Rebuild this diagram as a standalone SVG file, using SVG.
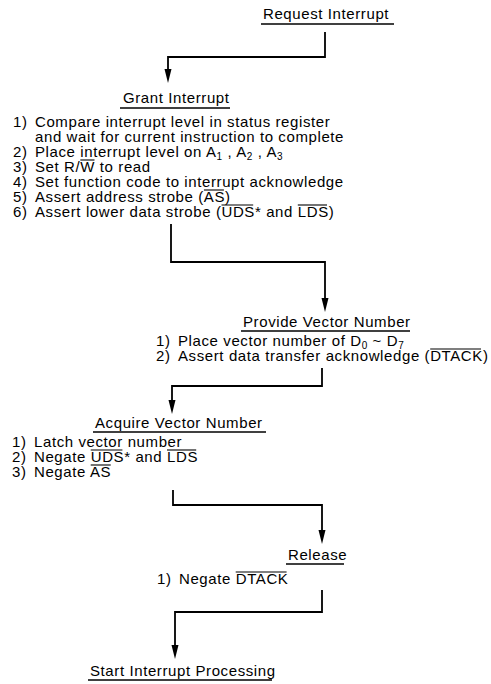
<svg xmlns="http://www.w3.org/2000/svg" width="491" height="684" viewBox="0 0 491 684">
<style>
text{font-family:"Liberation Sans",Arial,sans-serif;font-size:15px;letter-spacing:0.6px;fill:#000}
.ul{stroke:#000;stroke-width:1.3;fill:none}
.ov{stroke:#000;stroke-width:1.1;fill:none}
.cn{stroke:#000;stroke-width:1.8;fill:none}
.ah{fill:#000}
.sb{font-size:10px}
</style>
<rect width="491" height="684" fill="#fff"/>
<g id="connectors">
<path class="cn" d="M325,32 V57 H168 V70"/>
<path class="cn" d="M171,224 V262 H325 V299"/>
<path class="cn" d="M322,368 V386 H172 V401"/>
<path class="cn" d="M173,490 V505 H322 V531"/>
<path class="cn" d="M322,590 V612 H175 V646"/>
<path class="ah" d="M164.5,69 L171.5,69 L168,83 Z"/>
<path class="ah" d="M321.5,298 L328.5,298 L325,312 Z"/>
<path class="ah" d="M168.5,400 L175.5,400 L172,414 Z"/>
<path class="ah" d="M318.5,530 L325.5,530 L322,544 Z"/>
<path class="ah" d="M171.5,645 L178.5,645 L175,659 Z"/>
</g>
<g id="request">
<text x="263" y="19">Request Interrupt</text>
<line class="ul" x1="261" y1="24" x2="394" y2="24"/>
</g>
<g id="grant">
<text x="123" y="103">Grant Interrupt</text>
<line class="ul" x1="120" y1="108" x2="230" y2="108"/>
<text x="13" y="127">1)</text><text x="35" y="127">Compare interrupt level in status register</text>
<text x="35" y="142">and wait for current instruction to complete</text>
<text x="13" y="157">2)</text><text x="35" y="157">Place interrupt level on A<tspan class="sb" dy="3">1</tspan><tspan dy="-3"> , A</tspan><tspan class="sb" dy="3">2</tspan><tspan dy="-3"> , A</tspan><tspan class="sb" dy="3">3</tspan></text>
<text x="13" y="172">3)</text><text x="35" y="172">Set R/W to read</text>
<line class="ov" x1="80.3" y1="160" x2="94.5" y2="160"/>
<text x="13" y="187">4)</text><text x="35" y="187">Set function code to interrupt acknowledge</text>
<text x="13" y="202">5)</text><text x="35" y="202">Assert address strobe (AS)</text>
<line class="ov" x1="203.9" y1="190" x2="223.9" y2="190"/>
<text x="13" y="217">6)</text><text x="35" y="217">Assert lower data strobe (UDS* and LDS)</text>
<line class="ov" x1="221.5" y1="205" x2="253.2" y2="205"/>
<line class="ov" x1="297.8" y1="205" x2="327" y2="205"/>
</g>
<g id="provide">
<text x="243" y="327">Provide Vector Number</text>
<line class="ul" x1="241" y1="331" x2="410" y2="331"/>
<text x="156" y="346">1)</text><text x="178" y="346">Place vector number of D<tspan class="sb" dy="3">0</tspan><tspan dy="-3"> ~ D</tspan><tspan class="sb" dy="3">7</tspan></text>
<text x="156" y="361">2)</text><text x="178" y="361">Assert data transfer acknowledge (DTACK)</text>
<line class="ov" x1="430.2" y1="349" x2="481" y2="349"/>
</g>
<g id="acquire">
<text x="95" y="428">Acquire Vector Number</text>
<line class="ul" x1="93" y1="432" x2="266" y2="432"/>
<text x="12" y="447">1)</text><text x="34" y="447">Latch vector number</text>
<text x="12" y="462">2)</text><text x="34" y="462">Negate UDS* and LDS</text>
<line class="ov" x1="90.7" y1="450" x2="122.4" y2="450"/>
<line class="ov" x1="167" y1="450" x2="196.2" y2="450"/>
<text x="12" y="477">3)</text><text x="34" y="477">Negate AS</text>
<line class="ov" x1="90.7" y1="465" x2="110.7" y2="465"/>
</g>
<g id="release">
<text x="288" y="560">Release</text>
<line class="ul" x1="286" y1="564" x2="344" y2="564"/>
<text x="157" y="584">1)</text><text x="179" y="584">Negate DTACK</text>
<line class="ov" x1="235.7" y1="572" x2="286.6" y2="572"/>
</g>
<g id="start">
<text x="90" y="676">Start Interrupt Processing</text>
<line class="ul" x1="88" y1="680" x2="272" y2="680"/>
</g>
</svg>
